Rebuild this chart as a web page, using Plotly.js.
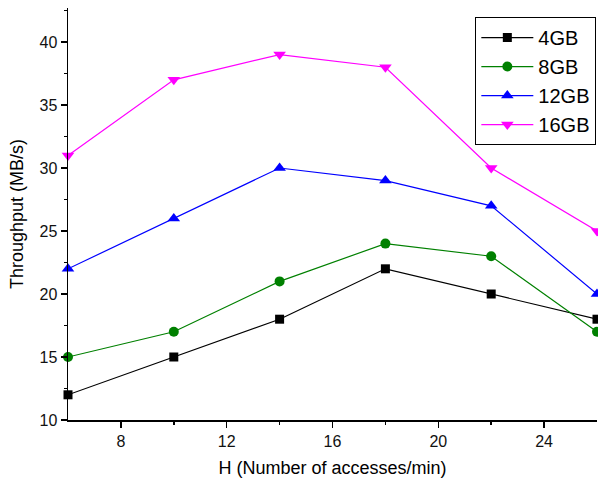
<!DOCTYPE html>
<html>
<head>
<meta charset="utf-8">
<script src="https://cdn.plot.ly/plotly-3.0.1.min.js"></script>
<style>html,body{margin:0;padding:0;background:#fff;}#chart{width:598px;height:487px;}</style>
</head>
<body>
<div id="chart"></div>
<script>
const hValues = [6, 10, 14, 18, 22, 26];
const seriesNames = ['4GB', '8GB', '12GB', '16GB'];
const tp4GB = [12, 15, 18, 22, 20, 18];
const tp8GB = [15, 17, 21, 24, 23, 17];
const tp12GB = [22, 26, 30, 29, 27, 20];
const tp16GB = [31, 37, 39, 38, 30, 25];
const xTicks = [8, 12, 16, 20, 24];
const yTicks = [10, 15, 20, 25, 30, 35, 40];

const styles = [
  {color: '#000000', symbol: 'square', size: 9},
  {color: '#008000', symbol: 'circle', size: 10},
  {color: '#0000ff', symbol: 'triangle-up', size: 11},
  {color: '#ff00ff', symbol: 'triangle-down', size: 11}
];
const allY = [tp4GB, tp8GB, tp12GB, tp16GB];
const traces = allY.map((ys, i) => ({
  x: hValues, y: ys, name: seriesNames[i], type: 'scatter', mode: 'lines+markers',
  line: {color: styles[i].color, width: 1.2},
  marker: {color: styles[i].color, symbol: styles[i].symbol, size: styles[i].size},
  cliponaxis: false
}));

const font = {family: 'Liberation Sans, Arial, sans-serif', color: '#000'};
const layout = {
  width: 598, height: 487,
  margin: {l: 68, r: 1, t: 8, b: 67},
  paper_bgcolor: '#fff', plot_bgcolor: '#fff',
  showlegend: true,
  font: font,
  xaxis: {
    range: [6, 26], tickvals: xTicks, ticktext: xTicks.map(String),
    showline: true, linecolor: '#000', linewidth: 1.5, mirror: false,
    showgrid: false, zeroline: false,
    ticks: 'outside', ticklen: 6, tickwidth: 1.5, tickcolor: '#000',
    minor: {tickvals: [10, 14, 18, 22], ticks: 'outside', ticklen: 3, tickwidth: 1.5, tickcolor: '#000', showgrid: false},
    tickfont: {size: 16, family: font.family, color: '#111'},
    title: {text: 'H (Number of accesses/min)', font: {size: 18, family: font.family, color: '#000'}, standoff: 12}
  },
  yaxis: {
    range: [10, 42.7], tickvals: yTicks, ticktext: yTicks.map(String),
    showline: true, linecolor: '#000', linewidth: 1.5, mirror: false,
    showgrid: false, zeroline: false,
    ticks: 'outside', ticklen: 6, tickwidth: 1.5, tickcolor: '#000',
    minor: {tickvals: [12.5, 17.5, 22.5, 27.5, 32.5, 37.5, 42.5], ticks: 'outside', ticklen: 3, tickwidth: 1.5, tickcolor: '#000', showgrid: false},
    tickfont: {size: 16, family: font.family, color: '#111'},
    title: {text: 'Throughput (MB/s)', font: {size: 18, family: font.family, color: '#000'}, standoff: 11}
  },
  legend: {
    x: 0.77, y: 0.978, xanchor: 'left', yanchor: 'top',
    bordercolor: '#000', borderwidth: 1, bgcolor: '#fff',
    font: {size: 20, family: font.family, color: '#000'},
    tracegroupgap: 0, itemwidth: 52
  }
};
Plotly.newPlot('chart', traces, layout, {displayModeBar: false, staticPlot: true});
</script>
</body>
</html>
